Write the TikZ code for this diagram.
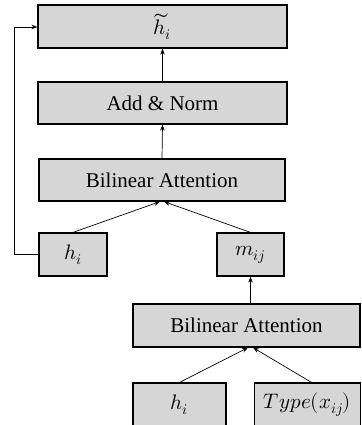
\documentclass[tikz,border=0pt]{standalone}
\usepackage{unicode-math}
\setmainfont{Liberation Serif}
\setmathfont{Latin Modern Math}
\usetikzlibrary{arrows.meta,calc}
\definecolor{boxgray}{RGB}{214,214,214}
\begin{document}
\begin{tikzpicture}[x=1pt,y=-1pt,
  blk/.style={draw=black,fill=boxgray,line width=1.2pt,inner sep=0pt,
    font=\fontsize{21}{25}\selectfont},
  conn/.style={line width=0.7pt,-{Stealth[length=6pt,width=4.5pt]}},
  mth/.style={font=\fontsize{21}{25}\selectfont}]
\useasboundingbox (0,0) rectangle (361,425);
\clip (0,0) rectangle (361,425);
\node[blk,mth,minimum width=249pt,minimum height=43pt] (ht) at (162.5,26.5) {$\widetilde{h\mkern3mu}\mkern-3mu{}_i$};
\node[blk,minimum width=249pt,minimum height=42pt] (an) at (162.5,103) {Add \& Norm};
\node[blk,minimum width=246pt,minimum height=42pt] (ba1) at (162,180) {Bilinear Attention};
\node[blk,mth,minimum width=68pt,minimum height=43pt] (hi1) at (73,254.5) {$h_i$};
\node[blk,mth,minimum width=67pt,minimum height=43pt] (mij) at (250.5,254.5) {$m_{ij}$};
\node[blk,minimum width=227pt,minimum height=43pt] (ba2) at (246.5,325.5) {Bilinear Attention};
\node[blk,mth,minimum width=93pt,minimum height=43pt] (hi2) at (179.5,404.5) {$h_i$};
\node[blk,mth,minimum width=106pt,minimum height=43pt] (ty) at (307.5,404.5) {$Type(x_{ij})$};
\coordinate (fbb) at (14,254.5);
\coordinate (fbt) at (14,27);
\draw[conn] (an.north) -- (ht.south);
\draw[conn] (ba1.north) -- (an.south);
\draw[conn] (hi1.north) -- ($(ba1.south)+(-2,0)$);
\draw[conn] (mij.north) -- ($(ba1.south)+(2,0)$);
\draw[conn] (ba2.north -| mij.south) -- (mij.south);
\draw[conn] (hi2.north) -- ($(ba2.south)+(1.5,0)$);
\draw[conn] ($(ty.north)+(4,0)$) -- ($(ba2.south)+(6.5,0)$);
\draw[conn] (hi1.west) -- (fbb) -- (fbt) -- (fbt -| ht.west);
\end{tikzpicture}
\end{document}
